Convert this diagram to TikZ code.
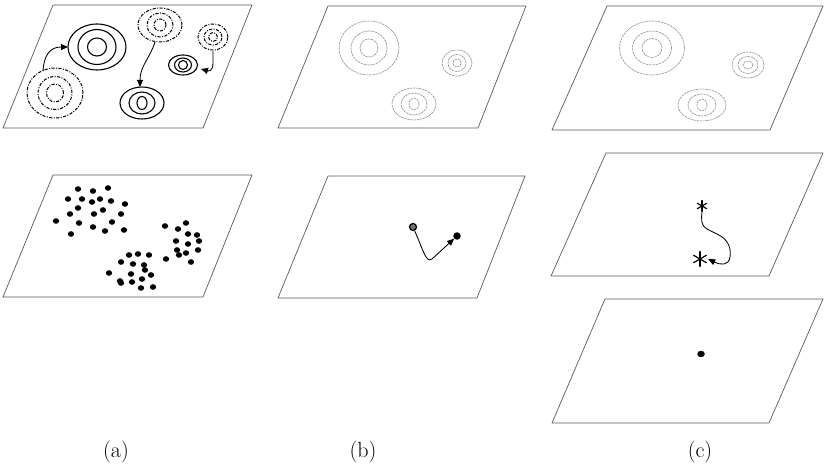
\documentclass[tikz,border=0pt]{standalone}
\usepackage{fontspec}
\usetikzlibrary{arrows.meta,shapes.geometric}
\newcommand\capfont{\fontsize{22}{26}\selectfont}
\begin{document}
\begin{tikzpicture}[x=1pt,y=-1pt,
  plane/.style={draw=black!65, line width=0.7pt, line join=round},
  solidring/.style={draw=black, line width=1.1pt},
  dashring/.style={draw=black, line width=1pt, dash pattern=on 3.2pt off 1.4pt on 1pt off 1.4pt},
  faintring/.style={draw=black!45, line width=0.6pt, dash pattern=on 2.4pt off 0.8pt},
  blob/.style={circle, fill=black, inner sep=0pt, minimum size=5.4pt},
  flow/.style={draw=black, line width=0.85pt, -{Triangle[length=7pt,width=6pt]}},
  starmark/.style={circle, inner sep=0pt, minimum size=#1,
    path picture={
      \foreach \ang in {90,30,150}{
        \draw[line width=1.2pt, line cap=round]
          ([shift={(\ang:#1/2-0.6pt)}]path picture bounding box.center) --
          ([shift={(\ang+180:#1/2-0.6pt)}]path picture bounding box.center);}
    }},
  panellabel/.style={inner sep=1pt}
]
\useasboundingbox (0,0) rectangle (825,470);

% ---------- planes ----------
\draw[plane] (53,5) -- (252,5) -- (203,128) -- (3,128) -- cycle;
\draw[plane] (53,175) -- (252,175) -- (203,297) -- (3,297) -- cycle;
\draw[plane] (328,6) -- (526,6) -- (478,128) -- (278,128) -- cycle;
\draw[plane] (328,176) -- (525,176) -- (477,298) -- (278,298) -- cycle;
\draw[plane] (607,6) -- (823,6) -- (770,130) -- (552,130) -- cycle;
\draw[plane] (606,153) -- (823,153) -- (769,276) -- (551,276) -- cycle;
\draw[plane] (605,299) -- (823,299) -- (769,423) -- (552,423) -- cycle;

% ---------- (a) upper plane: rings and their moves ----------
\draw[dashring] (55,93) ellipse [x radius=28pt, y radius=25pt];
\draw[dashring] (55,93) ellipse [x radius=17pt, y radius=16.5pt];
\draw[dashring] (55,93) ellipse [x radius=8.5pt, y radius=9pt];

\draw[solidring] (97,47) ellipse [x radius=29pt, y radius=23pt];
\draw[solidring] (97,47) ellipse [x radius=19pt, y radius=17.5pt];
\draw[solidring] (97,47) ellipse [x radius=9.5pt, y radius=9pt];

\draw[dashring] (160,25) ellipse [x radius=22pt, y radius=17pt];
\draw[dashring] (160,25) ellipse [x radius=13pt, y radius=12pt];
\draw[dashring] (160,25) ellipse [x radius=6pt, y radius=6pt];

\draw[solidring] (142,103) ellipse [x radius=22pt, y radius=16pt];
\draw[solidring] (142,103) ellipse [x radius=13pt, y radius=11pt];
\draw[solidring] (142,103) ellipse [x radius=5pt, y radius=6.5pt];

\draw[solidring] (183,65) ellipse [x radius=14.5pt, y radius=10pt];
\draw[solidring] (183,65) ellipse [x radius=8.5pt, y radius=7pt];
\draw[solidring] (183,65) ellipse [x radius=4.5pt, y radius=4.5pt];

\draw[dashring] (213,37) ellipse [x radius=15pt, y radius=13pt];
\draw[dashring] (213,37) ellipse [x radius=9pt, y radius=8pt];
\draw[dashring] (213,37) ellipse [x radius=4.5pt, y radius=4.5pt];

\coordinate (a1s) at (43,71);  \coordinate (a1e) at (68,47);
\coordinate (a2s) at (155,42); \coordinate (a2e) at (140,87);
\coordinate (a3s) at (213,51); \coordinate (a3e) at (201,69);
\draw[flow] (a1s) .. controls (44,55) and (50,47) .. (a1e);
\draw[flow] (a2s) .. controls (150,58) and (140,66) .. (a2e);
\draw[flow] (a3s) -- (213,63) .. controls (213,72) and (208,71) .. (a3e);

% ---------- (a) lower plane: point clusters ----------
\foreach \px/\py in {78/189, 93/191, 108/188, 68/199, 82/199, 92/202, 100/199,
  111/201, 125/204, 78/208, 103/210, 70/214, 94/214, 121/214, 56/221, 79/223,
  112/222, 93/227, 105/231, 124/230, 71/234,
  165/226, 178/229, 186/223, 188/234, 197/235, 176/241, 188/244, 199/241,
  177/250, 186/253, 198/250, 179/255, 166/259, 191/262,
  129/255, 138/254, 149/255, 121/262, 133/264, 144/265, 145/270, 109/273,
  131/274, 151/275, 120/281, 121/283, 132/282, 142/279, 141/288, 153/287}
  \fill (\px,\py) ellipse [x radius=3.2pt, y radius=2.8pt];

% ---------- (b) upper plane: faint rings ----------
\draw[faintring] (369,48) ellipse [x radius=30pt, y radius=27pt];
\draw[faintring] (369,48) ellipse [x radius=18pt, y radius=17pt];
\draw[faintring] (369,48) ellipse [x radius=9pt, y radius=9pt];
\draw[faintring] (457,63) ellipse [x radius=15pt, y radius=13pt];
\draw[faintring] (457,63) ellipse [x radius=9pt, y radius=8.5pt];
\draw[faintring] (457,63) ellipse [x radius=4.2pt, y radius=4pt];
\draw[faintring] (414,104) ellipse [x radius=22pt, y radius=16pt];
\draw[faintring] (414,104) ellipse [x radius=13pt, y radius=11pt];
\draw[faintring] (414,104) ellipse [x radius=5pt, y radius=6pt];

% ---------- (b) lower plane: a point moves ----------
\node[blob, fill=black!55, draw=black, line width=1.2pt, minimum size=7pt] (b1) at (413,227) {};
\node[blob, minimum size=7.5pt] (b2) at (457,236) {};
\draw[flow] (b1) .. controls (424,252) and (426,263) .. (432,259) -- (b2);

% ---------- (c) upper plane: faint rings ----------
\draw[faintring] (652,48) ellipse [x radius=32.5pt, y radius=27pt];
\draw[faintring] (652,48) ellipse [x radius=19.5pt, y radius=17pt];
\draw[faintring] (652,48) ellipse [x radius=10pt, y radius=9.5pt];
\draw[faintring] (748,65) ellipse [x radius=16pt, y radius=13pt];
\draw[faintring] (748,65) ellipse [x radius=10pt, y radius=8.5pt];
\draw[faintring] (748,65) ellipse [x radius=5pt, y radius=4pt];
\draw[faintring] (702,105) ellipse [x radius=24pt, y radius=16pt];
\draw[faintring] (702,105) ellipse [x radius=14pt, y radius=11pt];
\draw[faintring] (702,105) ellipse [x radius=5pt, y radius=6pt];

% ---------- (c) middle plane: starred points ----------
\node[starmark=12pt] (s1) at (702,206) {};
\node[starmark=16pt] (s2) at (700,259) {};
\draw[flow] (s1.south) .. controls (700,228) and (705,228) .. (717,234)
  .. controls (730,240) and (731,250) .. (730,257)
  .. controls (729,266) and (720,265) .. (s2.east);

% ---------- (c) lower plane: single point ----------
\node[ellipse, fill=black, inner sep=0pt, minimum width=7.5pt, minimum height=6.5pt] (c1) at (701,354) {};

% ---------- captions ----------
\node[panellabel] (capa) at (116,452) {\capfont (a)};
\node[panellabel] (capb) at (363,452) {\capfont (b)};
\node[panellabel] (capc) at (700,452) {\capfont (c)};
\end{tikzpicture}
\end{document}
